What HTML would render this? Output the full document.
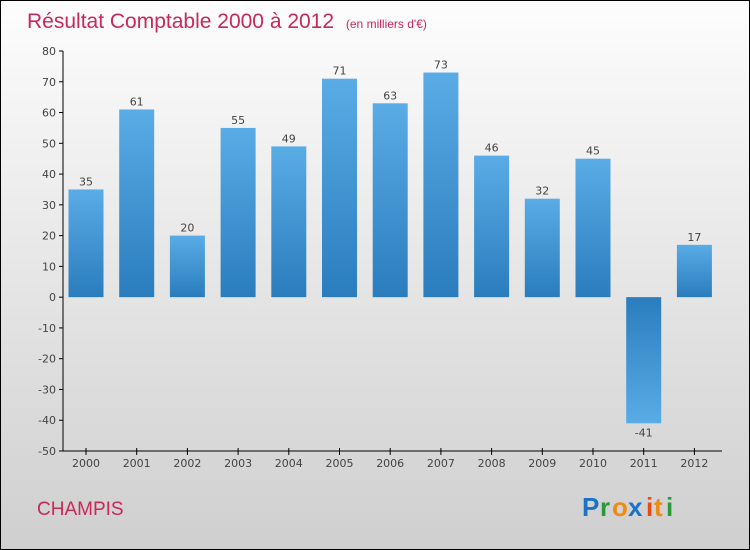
<!DOCTYPE html>
<html><head><meta charset="utf-8"><style>
body{margin:0}
#c{position:relative;width:748px;height:548px;border:1px solid #000;background:linear-gradient(#fdfdfd,#cfcfcf);font-family:"DejaVu Sans","Liberation Sans",sans-serif;overflow:hidden}
</style></head><body>
<div id="c">
<svg width="748" height="548" viewBox="0 0 748 548" id="svg">
<defs>
<linearGradient id="gp" x1="0" y1="0" x2="0" y2="1"><stop offset="0" stop-color="#5aace6"/><stop offset="1" stop-color="#2a7dbd"/></linearGradient>
<linearGradient id="gn" x1="0" y1="0" x2="0" y2="1"><stop offset="0" stop-color="#2a7dbd"/><stop offset="1" stop-color="#5aace6"/></linearGradient>
</defs>
<text x="26" y="27" font-size="21" fill="#c8285a" font-family="Liberation Sans, sans-serif">Résultat Comptable 2000 à 2012 <tspan font-size="12" dx="6">(en milliers d'€)</tspan></text>
<g id="axes"></g>
<g id="bars"></g>
<text x="36" y="514" font-size="19" fill="#c8285a" font-family="Liberation Sans, sans-serif">CHAMPIS</text>
<g font-family="Liberation Sans, sans-serif" font-size="26" font-weight="bold">
<text x="581" y="515" fill="#1a73c8">P</text><text x="599" y="515" fill="#2a9a3a">r</text><text x="611" y="515" fill="#f08a10">o</text><text x="627" y="515" fill="#1a73c8">x</text><text x="645" y="515" fill="#e84a10">i</text><text x="653" y="515" fill="#f08a10">t</text><text x="665" y="515" fill="#2a9a3a">i</text>
</g>
</svg>
</div>
<script>
const years=["2000","2001","2002","2003","2004","2005","2006","2007","2008","2009","2010","2011","2012"];
const values=[35,61,20,55,49,71,63,73,46,32,45,-41,17];
const yTicks=[80,70,60,50,40,30,20,10,0,-10,-20,-30,-40,-50];
const NS="http://www.w3.org/2000/svg";
const yMin=-50,yMax=80,plotTop=50,plotBot=450;
function y(v){return plotBot-(v-yMin)/(yMax-yMin)*(plotBot-plotTop);}
function x(i){return 85+i*50.7;}
function mk(t,a,p){const e=document.createElementNS(NS,t);for(const k in a)e.setAttribute(k,a[k]);p.appendChild(e);return e;}
const ax=document.getElementById('axes'),bg=document.getElementById('bars');
const yl=mk('line',{x1:62,y1:plotTop,x2:62,y2:plotBot,stroke:'#000'},ax);


const xl=mk('line',{x1:62,y1:plotBot,x2:721,y2:plotBot,stroke:'#000'},ax);


yTicks.forEach(v=>{
 mk('line',{x1:58,y1:y(v),x2:62,y2:y(v),stroke:'#000'},ax);
 const t=mk('text',{x:55,y:y(v)+4,'text-anchor':'end','font-size':11,fill:'#444'},ax);t.textContent=v;
 
 
});
years.forEach((yr,i)=>{
 mk('line',{x1:x(i),y1:plotBot-3,x2:x(i),y2:plotBot+4,stroke:'#000'},ax);
 const t=mk('text',{x:x(i),y:plotBot+16,'text-anchor':'middle','font-size':11,fill:'#444'},ax);t.textContent=yr;
 
 
 const v=values[i],y0=y(0),yv=y(v);
 const r=mk('rect',{x:x(i)-17.5,y:Math.min(y0,yv),width:35,height:Math.abs(yv-y0),fill:v>=0?'url(#gp)':'url(#gn)'},bg);
 
 
 const l=mk('text',{x:x(i),y:v>=0?yv-4:yv+13,'text-anchor':'middle','font-size':11,fill:'#444'},bg);l.textContent=v;
 
 
});
</script>
</body></html>
